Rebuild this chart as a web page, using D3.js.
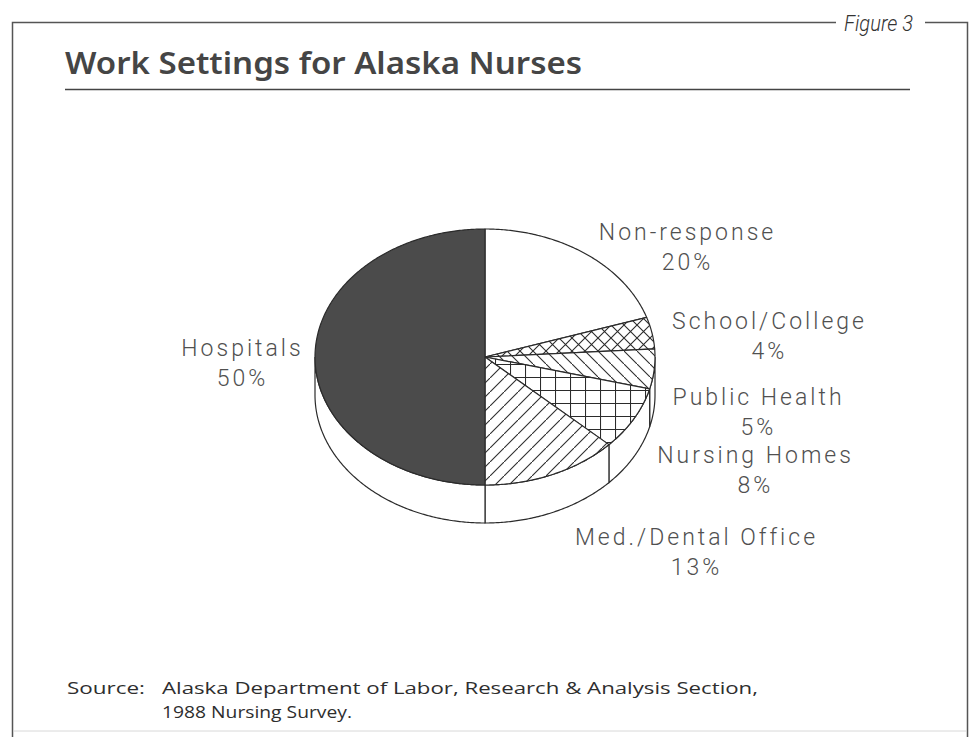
<!DOCTYPE html>
<html>
<head>
<meta charset="utf-8">
<script src="https://cdn.jsdelivr.net/npm/d3@7/dist/d3.min.js"></script>
<style>
  body { margin: 0; background: #fff; }
  .lbl { font-family: Roboto, "Liberation Sans", sans-serif; font-weight: 300; font-size: 23px; fill: #505050; letter-spacing: 3px; }
</style>
</head>
<body>
<div class="container"></div>
<script>
// data, clockwise from 12 o'clock
const categories = ["Non-response", "School/College", "Public Health", "Nursing Homes", "Med./Dental Office", "Hospitals"];
const shares = [20, 4, 5, 8, 13, 50];
const shareLabels = ["20%", "4%", "5%", "8%", "13%", "50%"];

// look of each slice
const fills = ["#fff", "url(#cross)", "url(#back)", "url(#grid)", "url(#fwd)", "#4b4b4b"];
// label anchors (centre x, baseline of first line)
const labelX = [686, 768, 757, 754, 695, 241];
const labelY = [240, 329, 405, 463, 545, 356];

const width = 973;
const height = 737;
const cx = 485, cy = 357, rx = 170, ry = 128, depth = 38;
const ink = "#2b2b2b";

const svg = d3.select('.container')
    .append('svg')
    .attr('width', width)
    .attr('height', height)

// hatch patterns
const defs = svg.append('defs')
function pattern(id, w, h, d) {
    const p = defs.append('pattern')
        .attr('id', id)
        .attr('patternUnits', 'userSpaceOnUse')
        .attr('width', w)
        .attr('height', h)
    p.append('rect').attr('width', w).attr('height', h).attr('fill', '#fff')
    p.append('path').attr('d', d).attr('stroke', ink).attr('stroke-width', 1.1).attr('fill', 'none')
}
pattern('cross', 13, 13, 'M0,0L13,13M13,0L0,13')
pattern('back', 13, 13, 'M0,0L13,13')
pattern('fwd', 14, 14, 'M0,14L14,0')
pattern('grid', 15, 13, 'M0,0.5H15M0.5,0V13')

// frame
const frame = svg.append('g').attr('stroke', '#555').attr('stroke-width', 1.5).attr('fill', 'none')
frame.append('path').attr('d', 'M12.5,737V22.5H836')
frame.append('path').attr('d', 'M925,22.5H967.5V737')
svg.append('line').attr('x1', 14).attr('x2', 966).attr('y1', 731).attr('y2', 731)
    .attr('stroke', '#d8d8d8').attr('stroke-width', 1)

svg.append('text')
    .attr('x', 844).attr('y', 31)
    .attr('font-family', 'Roboto, "Liberation Sans", sans-serif')
    .attr('font-style', 'italic')
    .attr('font-weight', 300)
    .attr('font-size', 22)
    .attr('fill', '#333')
    .attr('textLength', 69)
    .attr('lengthAdjust', 'spacingAndGlyphs')
    .text('Figure 3')

// title
svg.append('text')
    .attr('x', 65).attr('y', 74)
    .attr('font-family', '"Noto Sans", "Liberation Sans", sans-serif')
    .attr('font-weight', 600)
    .attr('font-size', 30)
    .attr('fill', '#454545')
    .attr('textLength', 517)
    .attr('lengthAdjust', 'spacingAndGlyphs')
    .text('Work Settings for Alaska Nurses')

svg.append('line')
    .attr('x1', 65).attr('x2', 910).attr('y1', 89.5).attr('y2', 89.5)
    .attr('stroke', '#444').attr('stroke-width', 1.6)

// pie on a tilted ellipse
const arcs = d3.pie().sort(null).value(d => d)(shares)
const pt = (a, dy) => [cx + rx * Math.sin(a), cy - ry * Math.cos(a) + dy]
const arcPts = (a0, a1, dy) => {
    const n = Math.max(2, Math.ceil((a1 - a0) / 0.01))
    return d3.range(n + 1).map(i => pt(a0 + (a1 - a0) * i / n, dy))
}
const line = d3.line()

// side wall, only the front half shows
const side = svg.append('g')
arcs.forEach(d => {
    const s0 = Math.max(d.startAngle, Math.PI / 2)
    const s1 = Math.min(d.endAngle, 3 * Math.PI / 2)
    if (s1 <= s0) return
    const pts = arcPts(s0, s1, 0).concat(arcPts(s0, s1, depth).reverse())
    side.append('path')
        .attr('d', line(pts) + 'Z')
        .attr('fill', '#fff')
        .attr('stroke', ink)
        .attr('stroke-width', 1.2)
})

// top faces
svg.append('g').selectAll('path')
    .data(arcs)
    .enter()
    .append('path')
    .attr('d', d => line([[cx, cy]].concat(arcPts(d.startAngle, d.endAngle, 0))) + 'Z')
    .attr('fill', (d, i) => fills[i])
    .attr('stroke', ink)
    .attr('stroke-width', 1.2)
    .attr('stroke-linejoin', 'round')

// labels
const labels = svg.append('g')
categories.forEach((c, i) => {
    labels.append('text').attr('class', 'lbl')
        .attr('x', labelX[i] + 1.5).attr('y', labelY[i])
        .attr('text-anchor', 'middle')
        .text(c)
    labels.append('text').attr('class', 'lbl')
        .attr('x', labelX[i] + 1.5).attr('y', labelY[i] + 30)
        .attr('text-anchor', 'middle')
        .text(shareLabels[i])
})

// source note
const src = svg.append('g')
    .attr('font-family', '"Open Sans", "Liberation Sans", sans-serif')
    .attr('font-size', 17)
    .attr('fill', '#2e2e2e')
src.append('text').attr('x', 67).attr('y', 694)
    .attr('textLength', 78).attr('lengthAdjust', 'spacingAndGlyphs')
    .text('Source:')
src.append('text').attr('x', 162).attr('y', 694)
    .attr('textLength', 596).attr('lengthAdjust', 'spacingAndGlyphs')
    .text('Alaska Department of Labor, Research & Analysis Section,')
src.append('text').attr('x', 162).attr('y', 718)
    .attr('textLength', 190).attr('lengthAdjust', 'spacingAndGlyphs')
    .text('1988 Nursing Survey.')
</script>
</body>
</html>
